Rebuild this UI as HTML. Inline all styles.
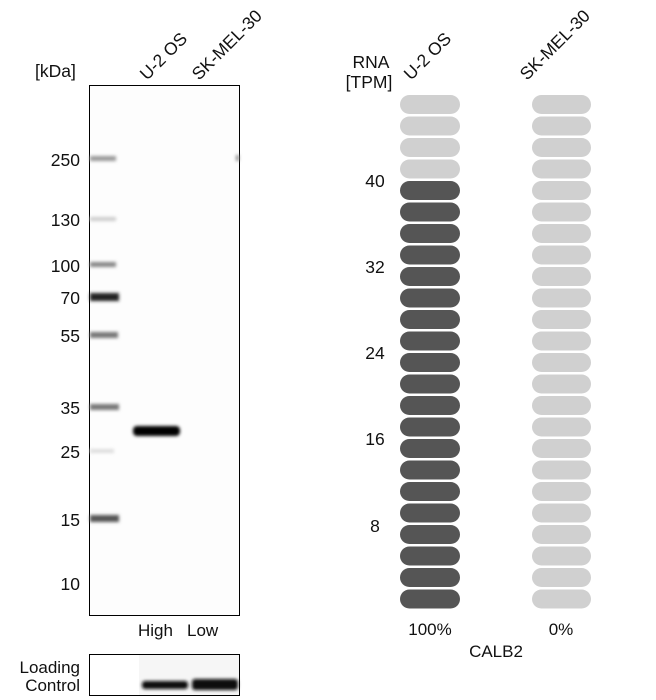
<!DOCTYPE html>
<html><head><style>body{margin:0;background:#fff}svg{display:block}text{font-family:"Liberation Sans",Arial,sans-serif;fill:#111}</style></head><body>
<svg width="656" height="700" viewBox="0 0 656 700" xmlns="http://www.w3.org/2000/svg">
<defs><filter id="b" x="-20%" y="-100%" width="140%" height="300%"><feGaussianBlur stdDeviation="1.5"/></filter></defs>
<text x="35" y="77" font-size="17.5">[kDa]</text>
<text transform="translate(147,81) rotate(-45)" font-size="17.5">U-2 OS</text>
<text transform="translate(199,81) rotate(-45)" font-size="17.5">SK-MEL-30</text>
<rect x="89.5" y="85.5" width="150" height="530" fill="#fdfdfd" stroke="#000" stroke-width="1"/>
<g font-size="17.5" text-anchor="end">
<text x="80" y="166">250</text><text x="80" y="226">130</text><text x="80" y="272">100</text><text x="80" y="304">70</text><text x="80" y="342">55</text><text x="80" y="414">35</text><text x="80" y="458">25</text><text x="80" y="526">15</text><text x="80" y="590">10</text>
</g>
<g filter="url(#b)">
<rect x="90" y="156" width="26" height="5" fill="#999"/>
<rect x="90" y="217" width="26" height="4" fill="#ccc"/>
<rect x="90" y="262" width="26" height="5" fill="#888"/>
<rect x="90" y="293" width="29" height="8" fill="#222"/>
<rect x="90" y="332" width="28" height="6" fill="#777"/>
<rect x="90" y="404" width="29" height="6" fill="#777"/>
<rect x="90" y="449" width="24" height="4" fill="#ddd"/>
<rect x="90" y="515" width="29" height="7" fill="#555"/>
<rect x="133" y="426" width="47" height="10" rx="4" fill="#000"/>
<rect x="236" y="155" width="3" height="6" fill="#888"/>
</g>
<text x="138" y="636" font-size="17">High</text>
<text x="187" y="636" font-size="17">Low</text>
<text x="80" y="673" font-size="17" text-anchor="end">Loading</text>
<text x="80" y="691" font-size="17" text-anchor="end">Control</text>
<rect x="89.5" y="654.5" width="150" height="41" fill="#fff" stroke="#000"/>
<rect x="139" y="655" width="100" height="40" fill="#f6f6f6"/>
<g filter="url(#b)"><rect x="142" y="681" width="46" height="8" rx="3" fill="#111"/><rect x="192" y="679" width="46" height="11" rx="3" fill="#111"/></g>
<text x="371" y="68" font-size="17.5" text-anchor="middle">RNA</text>
<text x="369" y="88" font-size="17.5" text-anchor="middle">[TPM]</text>
<text transform="translate(411,81) rotate(-45)" font-size="17.5">U-2 OS</text>
<text transform="translate(527,81) rotate(-45)" font-size="17.5">SK-MEL-30</text>
<g font-size="17.5" text-anchor="middle">
<text x="375" y="187">40</text><text x="375" y="273">32</text><text x="375" y="359">24</text><text x="375" y="445">16</text><text x="375" y="532">8</text>
</g>
<text x="430" y="635" font-size="17" text-anchor="middle">100%</text>
<text x="561" y="635" font-size="17" text-anchor="middle">0%</text>
<text x="496" y="657" font-size="17" text-anchor="middle">CALB2</text>
<g>
<rect x="400" y="95" width="60" height="19" rx="9.5" fill="#d0d0d0"/><rect x="532" y="95" width="59" height="19" rx="9.5" fill="#d0d0d0"/>
<rect x="400" y="116.5" width="60" height="19" rx="9.5" fill="#d0d0d0"/><rect x="532" y="116.5" width="59" height="19" rx="9.5" fill="#d0d0d0"/>
<rect x="400" y="138" width="60" height="19" rx="9.5" fill="#d0d0d0"/><rect x="532" y="138" width="59" height="19" rx="9.5" fill="#d0d0d0"/>
<rect x="400" y="159.5" width="60" height="19" rx="9.5" fill="#d0d0d0"/><rect x="532" y="159.5" width="59" height="19" rx="9.5" fill="#d0d0d0"/>
<rect x="400" y="181" width="60" height="19" rx="9.5" fill="#555"/><rect x="532" y="181" width="59" height="19" rx="9.5" fill="#d0d0d0"/>
<rect x="400" y="202.5" width="60" height="19" rx="9.5" fill="#555"/><rect x="532" y="202.5" width="59" height="19" rx="9.5" fill="#d0d0d0"/>
<rect x="400" y="224" width="60" height="19" rx="9.5" fill="#555"/><rect x="532" y="224" width="59" height="19" rx="9.5" fill="#d0d0d0"/>
<rect x="400" y="245.5" width="60" height="19" rx="9.5" fill="#555"/><rect x="532" y="245.5" width="59" height="19" rx="9.5" fill="#d0d0d0"/>
<rect x="400" y="267" width="60" height="19" rx="9.5" fill="#555"/><rect x="532" y="267" width="59" height="19" rx="9.5" fill="#d0d0d0"/>
<rect x="400" y="288.5" width="60" height="19" rx="9.5" fill="#555"/><rect x="532" y="288.5" width="59" height="19" rx="9.5" fill="#d0d0d0"/>
<rect x="400" y="310" width="60" height="19" rx="9.5" fill="#555"/><rect x="532" y="310" width="59" height="19" rx="9.5" fill="#d0d0d0"/>
<rect x="400" y="331.5" width="60" height="19" rx="9.5" fill="#555"/><rect x="532" y="331.5" width="59" height="19" rx="9.5" fill="#d0d0d0"/>
<rect x="400" y="353" width="60" height="19" rx="9.5" fill="#555"/><rect x="532" y="353" width="59" height="19" rx="9.5" fill="#d0d0d0"/>
<rect x="400" y="374.5" width="60" height="19" rx="9.5" fill="#555"/><rect x="532" y="374.5" width="59" height="19" rx="9.5" fill="#d0d0d0"/>
<rect x="400" y="396" width="60" height="19" rx="9.5" fill="#555"/><rect x="532" y="396" width="59" height="19" rx="9.5" fill="#d0d0d0"/>
<rect x="400" y="417.5" width="60" height="19" rx="9.5" fill="#555"/><rect x="532" y="417.5" width="59" height="19" rx="9.5" fill="#d0d0d0"/>
<rect x="400" y="439" width="60" height="19" rx="9.5" fill="#555"/><rect x="532" y="439" width="59" height="19" rx="9.5" fill="#d0d0d0"/>
<rect x="400" y="460.5" width="60" height="19" rx="9.5" fill="#555"/><rect x="532" y="460.5" width="59" height="19" rx="9.5" fill="#d0d0d0"/>
<rect x="400" y="482" width="60" height="19" rx="9.5" fill="#555"/><rect x="532" y="482" width="59" height="19" rx="9.5" fill="#d0d0d0"/>
<rect x="400" y="503.5" width="60" height="19" rx="9.5" fill="#555"/><rect x="532" y="503.5" width="59" height="19" rx="9.5" fill="#d0d0d0"/>
<rect x="400" y="525" width="60" height="19" rx="9.5" fill="#555"/><rect x="532" y="525" width="59" height="19" rx="9.5" fill="#d0d0d0"/>
<rect x="400" y="546.5" width="60" height="19" rx="9.5" fill="#555"/><rect x="532" y="546.5" width="59" height="19" rx="9.5" fill="#d0d0d0"/>
<rect x="400" y="568" width="60" height="19" rx="9.5" fill="#555"/><rect x="532" y="568" width="59" height="19" rx="9.5" fill="#d0d0d0"/>
<rect x="400" y="589.5" width="60" height="19" rx="9.5" fill="#555"/><rect x="532" y="589.5" width="59" height="19" rx="9.5" fill="#d0d0d0"/>
</g>
</svg>
</body></html>
